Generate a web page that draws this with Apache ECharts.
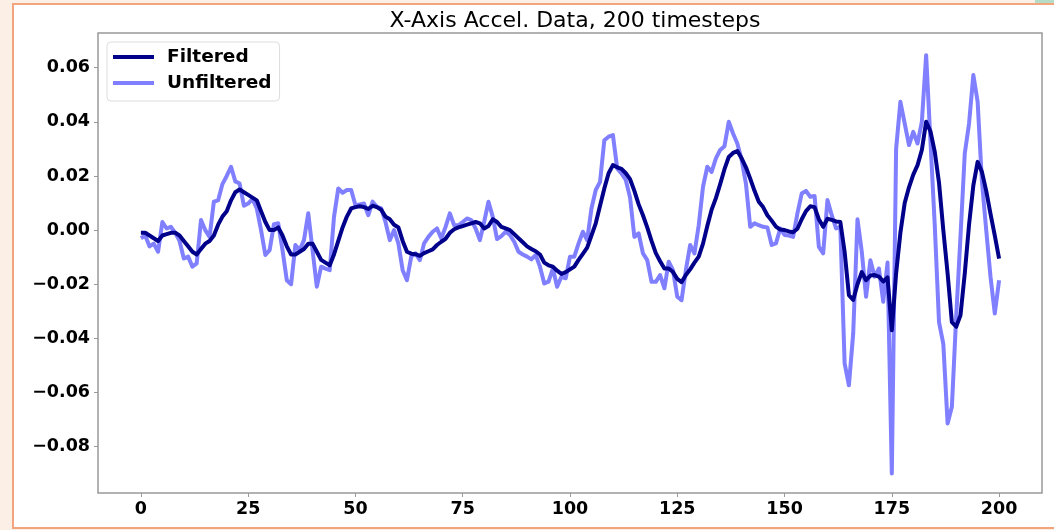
<!DOCTYPE html>
<html><head><meta charset="utf-8">
<script src="https://cdn.jsdelivr.net/npm/echarts@6/dist/echarts.min.js"></script>
<style>html,body{margin:0;padding:0;background:#fcefe6;}#c{width:1054px;height:530px;}</style>
</head><body><div id="c"></div>
<script>
const titleText = 'X-Axis Accel. Data, 200 timesteps';
const seriesNames = ['Filtered', 'Unfiltered'];
const xTicks = [0, 25, 50, 75, 100, 125, 150, 175, 200];
const yTicks = [-0.08, -0.06, -0.04, -0.02, 0.00, 0.02, 0.04, 0.06];

const filtered = [
 -0.001,-0.001,-0.002,-0.003,-0.004,-0.002,-0.0015,-0.001,-0.001,-0.002,
 -0.004,-0.006,-0.008,-0.009,-0.007,-0.005,-0.004,-0.002,0.002,0.005,
 0.007,0.011,0.014,0.015,0.014,0.013,0.012,0.011,0.007,0.003,
 0.000,0.000,0.001,-0.002,-0.006,-0.009,-0.009,-0.008,-0.007,-0.005,
 -0.005,-0.008,-0.011,-0.012,-0.013,-0.009,-0.004,0.001,0.005,0.008,
 0.0085,0.0088,0.0085,0.0078,0.009,0.0085,0.0075,0.005,0.004,0.002,
 0.001,-0.004,-0.008,-0.0087,-0.0089,-0.0095,-0.0085,-0.0078,-0.0071,-0.0055,
 -0.0043,-0.0032,-0.001,0.0003,0.001,0.0015,0.002,0.0025,0.003,0.0025,
 0.0006,0.0015,0.004,0.003,0.0012,0.0006,0.000,-0.0015,-0.003,-0.0045,
 -0.006,-0.007,-0.0078,-0.009,-0.012,-0.013,-0.0135,-0.015,-0.0162,-0.0155,
 -0.0145,-0.0135,-0.011,-0.0088,-0.0065,-0.002,0.0025,0.009,0.0154,0.021,
 0.024,0.0232,0.0226,0.021,0.0188,0.0145,0.0095,0.0055,0.001,-0.004,
 -0.0085,-0.0115,-0.0142,-0.0142,-0.0155,-0.018,-0.0192,-0.0166,-0.0145,-0.012,
 -0.0098,-0.005,0.0015,0.0075,0.0118,0.017,0.0225,0.027,0.0285,0.0292,
 0.0265,0.0232,0.019,0.0145,0.0105,0.0085,0.0055,0.0035,0.0013,0.0002,
 0.000,-0.0005,-0.0008,0.0005,0.004,0.007,0.0088,0.0085,0.004,0.0012,
 0.0042,0.0038,0.0032,0.003,-0.008,-0.024,-0.0258,-0.02,-0.0155,-0.0185,
 -0.0168,-0.0166,-0.0172,-0.019,-0.0175,-0.037,-0.016,-0.001,0.010,0.0158,
 0.0205,0.024,0.0296,0.040,0.0365,0.029,0.0175,0.000,-0.016,-0.034,
 -0.0357,-0.0315,-0.016,0.002,0.0165,0.0252,0.0215,0.0145,0.006,-0.002,
 -0.0105
];

const unfiltered = [
 -0.003,-0.002,-0.006,-0.005,-0.008,0.003,0.0006,0.0012,-0.001,-0.004,
 -0.0105,-0.0098,-0.0135,-0.0123,0.0037,0.000,-0.0025,0.0105,0.011,0.017,
 0.020,0.0234,0.018,0.0172,0.009,0.0098,0.0115,0.008,0.000,-0.0092,
 -0.0074,0.0022,0.0025,-0.0074,-0.0185,-0.020,-0.0055,-0.0074,-0.0037,0.0062,
 -0.0074,-0.0209,-0.0135,-0.0142,-0.0148,0.0049,0.0154,0.0138,0.0148,0.0148,
 0.0092,0.0095,0.0098,0.0055,0.0105,0.0086,0.008,0.003,-0.0037,0.000,
 -0.0049,-0.0148,-0.0185,-0.0098,-0.0086,-0.0111,-0.0049,-0.0025,-0.0006,0.0006,
 -0.0031,0.0012,0.0062,0.0018,0.0018,0.003,0.0043,0.0037,0.0006,-0.0037,
 0.0031,0.0105,0.0049,-0.0033,-0.0022,-0.0006,-0.0018,-0.0043,-0.008,-0.009,
 -0.0098,-0.0108,-0.0092,-0.0135,-0.0197,-0.019,-0.0142,-0.0209,-0.0172,-0.0178,
 -0.0098,-0.0098,-0.0049,-0.0006,-0.0037,0.008,0.0148,0.0178,0.0332,0.0345,
 0.0351,0.0228,0.0209,0.0185,0.012,-0.0025,-0.0012,-0.0086,-0.0111,-0.0191,
 -0.0191,-0.0166,-0.0215,-0.0117,-0.0148,-0.0246,-0.0259,-0.0148,-0.0055,-0.0086,
 0.0018,0.016,0.0234,0.0215,0.0265,0.0296,0.031,0.040,0.0357,0.032,
 0.0259,0.0172,0.0012,0.0025,0.0018,0.0012,0.001,-0.0055,-0.0049,0.0006,
 -0.0018,-0.002,-0.0025,0.0062,0.0135,0.0145,0.0123,0.0126,-0.0062,-0.0086,
 0.0111,0.0055,0.0006,0.0012,-0.0492,-0.0573,-0.0382,0.004,-0.008,-0.0246,
 -0.0111,-0.0172,-0.0142,-0.0265,-0.012,-0.0899,0.030,0.0474,0.0394,0.0314,
 0.0363,0.032,0.040,0.0646,0.033,0.002,-0.034,-0.042,-0.0714,-0.0652,
 -0.032,-0.0025,0.0283,0.0394,0.0573,0.0474,0.018,0.000,-0.0172,-0.0308,
 -0.0185
];

const toPairs = arr => arr.map((v, i) => [i, v]);
const fmtY = v => (v < 0 ? '\u2212' : '') + Math.abs(v).toFixed(2);
const FONT = '"DejaVu Sans", sans-serif';

const chart = echarts.init(document.getElementById('c'), null, {renderer: 'canvas'});
chart.setOption({
  animation: false,
  backgroundColor: '#fcefe6',
  graphic: [
    {type: 'rect', shape: {x: 13, y: 4, width: 1050, height: 524}, style: {fill: '#ffffff', stroke: '#f2a47c', lineWidth: 2}, z: -10, silent: true},
    {type: 'rect', shape: {x: 1035, y: 0, width: 19, height: 3}, style: {fill: '#b5dcc6'}, z: -10, silent: true}
  ],
  title: {
    text: titleText, left: 570, top: 5, textAlign: 'center',
    textStyle: {fontFamily: FONT, fontSize: 22, fontWeight: 'normal', color: '#000'}
  },
  grid: {left: 98, top: 33, right: 12, bottom: 37, show: true, borderColor: '#999', borderWidth: 1.5, containLabel: false},
  legend: {
    orient: 'vertical', left: 107, top: 42,
    data: seriesNames, icon: 'rect', itemWidth: 41, itemHeight: 4, itemGap: 6,
    padding: [5, 8, 8, 6],
    borderColor: '#dddddd', borderWidth: 1, borderRadius: 4, backgroundColor: '#ffffff',
    textStyle: {fontFamily: FONT, fontSize: 18.5, fontWeight: 'bold', color: '#000', lineHeight: 20, padding: [0, 0, 0, 8]}
  },
  xAxis: {
    type: 'value', min: -10, max: 210,
    splitLine: {show: false},
    axisLine: {show: false, onZero: false},
    axisTick: {show: true, length: 4, lineStyle: {color: '#999'}, customValues: xTicks},
    axisLabel: {customValues: xTicks, margin: 7, fontFamily: FONT, fontSize: 17.5, fontWeight: 'bold', color: '#000', formatter: v => String(v)}
  },
  yAxis: {
    type: 'value', min: -0.0971, max: 0.0728,
    splitLine: {show: false},
    axisLine: {show: false, onZero: false},
    axisTick: {show: true, length: 4, lineStyle: {color: '#999'}, customValues: yTicks},
    axisLabel: {customValues: yTicks, margin: 8, fontFamily: FONT, fontSize: 17.5, fontWeight: 'bold', color: '#000', formatter: fmtY}
  },
  series: [
    {name: seriesNames[0], type: 'line', data: toPairs(filtered), showSymbol: false, symbol: 'none', z: 3,
     lineStyle: {color: '#00008b', width: 4, join: 'round'}, itemStyle: {color: '#00008b'}},
    {name: seriesNames[1], type: 'line', data: toPairs(unfiltered), showSymbol: false, symbol: 'none', z: 2,
     lineStyle: {color: '#7f7fff', width: 4, join: 'round'}, itemStyle: {color: '#7f7fff'}}
  ]
});
</script></body></html>
